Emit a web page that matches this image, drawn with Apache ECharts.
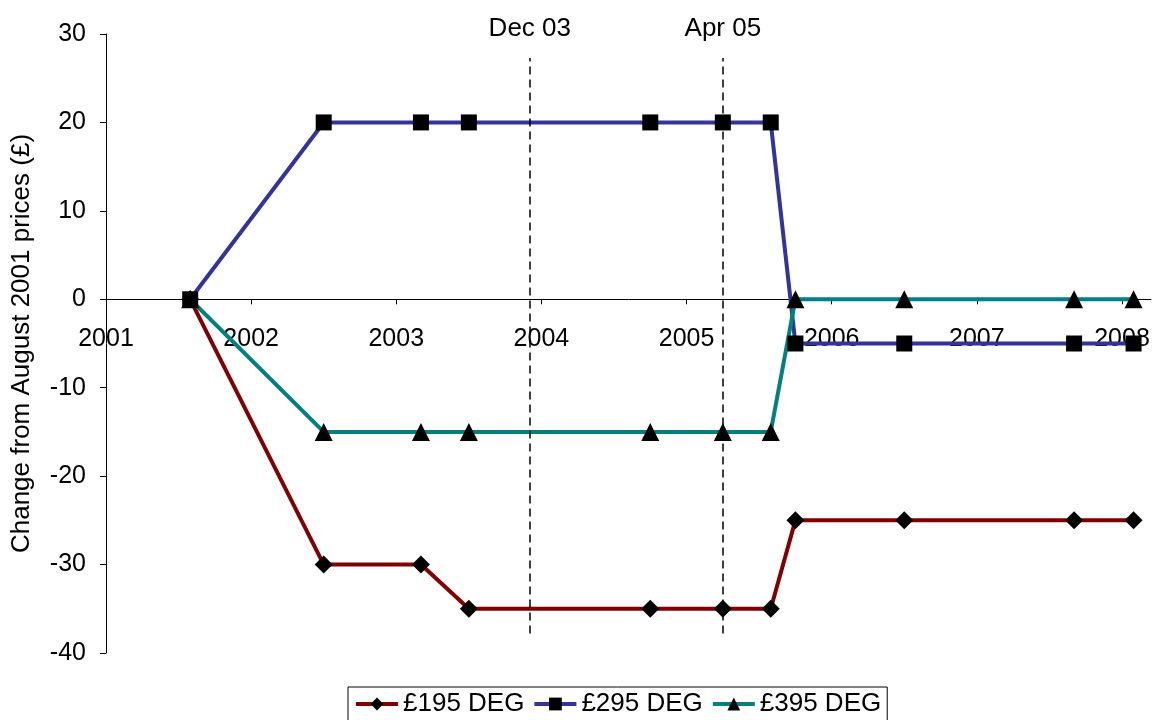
<!DOCTYPE html>
<html>
<head>
<meta charset="utf-8">
<script src="https://cdn.jsdelivr.net/npm/echarts@6/dist/echarts.min.js"></script>
<style>
  html, body { margin: 0; padding: 0; background: #fff; }
  #chart { width: 1153px; height: 720px; }
</style>
</head>
<body>
<div id="chart"></div>
<script>
// dates as decimal years (Aug 01 ... Feb 08)
var dates = [2001.58, 2002.5, 2003.17, 2003.5, 2004.75, 2005.25, 2005.58, 2005.75, 2006.5, 2007.67, 2008.08];
var deg195 = [0, -30, -30, -35, -35, -35, -35, -25, -25, -25, -25];
var deg295 = [0, 20, 20, 20, 20, 20, 20, -5, -5, -5, -5];
var deg395 = [0, -15, -15, -15, -15, -15, -15, 0, 0, 0, 0];
var eventNames = ['Dec 03', 'Apr 05'];
var eventDates = [2003.92, 2005.25];
var seriesNames = ['£195 DEG', '£295 DEG', '£395 DEG'];
var seriesColors = ['#800000', '#333399', '#008080'];

var font = 'Liberation Sans, Arial, sans-serif';

var gridTop = 34, gridBottom = 67, chartH = 720;
var yMin = -40, yMax = 30;
// move the x axis (and its labels) up to y = 0
var plotH = chartH - gridTop - gridBottom;
var xAxisOffset = -plotH * (0 - yMin) / (yMax - yMin);

function pairs(ys) {
    return ys.map(function (y, i) { return [dates[i], y]; });
}

var markLines = eventDates.map(function (d, i) {
    return [
        { coord: [d, -37.8] },
        { coord: [d, 27.3], label: { formatter: eventNames[i] } }
    ];
});

var myChart = echarts.init(document.getElementById('chart'));

var option = {
    animation: false,
    textStyle: { fontFamily: font },
    grid: { left: 106, right: 2, top: gridTop, bottom: gridBottom, outerBoundsMode: 'none', containLabel: false },
    legend: {
        bottom: -1,
        left: 348,
        data: seriesNames.map(function (n, i) {
            return { name: n, lineStyle: { color: seriesColors[i], width: 4 } };
        }),
        itemWidth: 42,
        itemHeight: 16,
        itemGap: 8,
        padding: [4, 6, 4, 6],
        borderColor: '#000',
        borderWidth: 1,
        borderRadius: 0,
        textStyle: { fontSize: 26, color: '#000', fontFamily: font }
    },
    xAxis: {
        type: 'value',
        min: 2001,
        max: 2008.2,
        interval: 1,
        offset: xAxisOffset,
        splitLine: { show: false },
        axisLine: { onZero: false, lineStyle: { color: '#000', width: 1 } },
        axisTick: { length: 5, lineStyle: { color: '#000' } },
        axisLabel: {
            margin: 27,
            fontSize: 25,
            color: '#000',
            fontFamily: font,
            showMaxLabel: false,
            formatter: function (v) { return String(Math.round(v)); }
        }
    },
    yAxis: {
        type: 'value',
        min: yMin,
        max: yMax,
        interval: 10,
        name: 'Change from August 2001 prices (£)',
        nameLocation: 'middle',
        nameGap: 71,
        nameTextStyle: { fontSize: 26, color: '#000', fontFamily: font },
        splitLine: { show: false },
        axisLine: { onZero: false, lineStyle: { color: '#000', width: 1 } },
        axisTick: { length: 6, lineStyle: { color: '#000' } },
        axisLabel: { margin: 20, fontSize: 25, color: '#000', fontFamily: font }
    },
    series: [
        {
            name: seriesNames[0],
            type: 'line',
            data: pairs(deg195),
            symbol: 'diamond',
            symbolSize: 18,
            lineStyle: { color: seriesColors[0], width: 4 },
            itemStyle: { color: '#000', borderWidth: 0 },
            markLine: {
                silent: true,
                symbol: ['none', 'none'],
                lineStyle: { color: '#000', type: [8, 5], width: 1.5 },
                label: { position: 'end', distance: 16, fontSize: 26, color: '#000', fontFamily: font },
                data: markLines
            },
            z: 3
        },
        {
            name: seriesNames[1],
            type: 'line',
            data: pairs(deg295),
            symbol: 'rect',
            symbolSize: 16,
            lineStyle: { color: seriesColors[1], width: 4 },
            itemStyle: { color: '#000', borderWidth: 0 },
            z: 3
        },
        {
            name: seriesNames[2],
            type: 'line',
            data: pairs(deg395),
            symbol: 'triangle',
            symbolSize: 18,
            lineStyle: { color: seriesColors[2], width: 4 },
            itemStyle: { color: '#000', borderWidth: 0 },
            z: 3
        }
    ]
};

myChart.setOption(option);
</script>
</body>
</html>
